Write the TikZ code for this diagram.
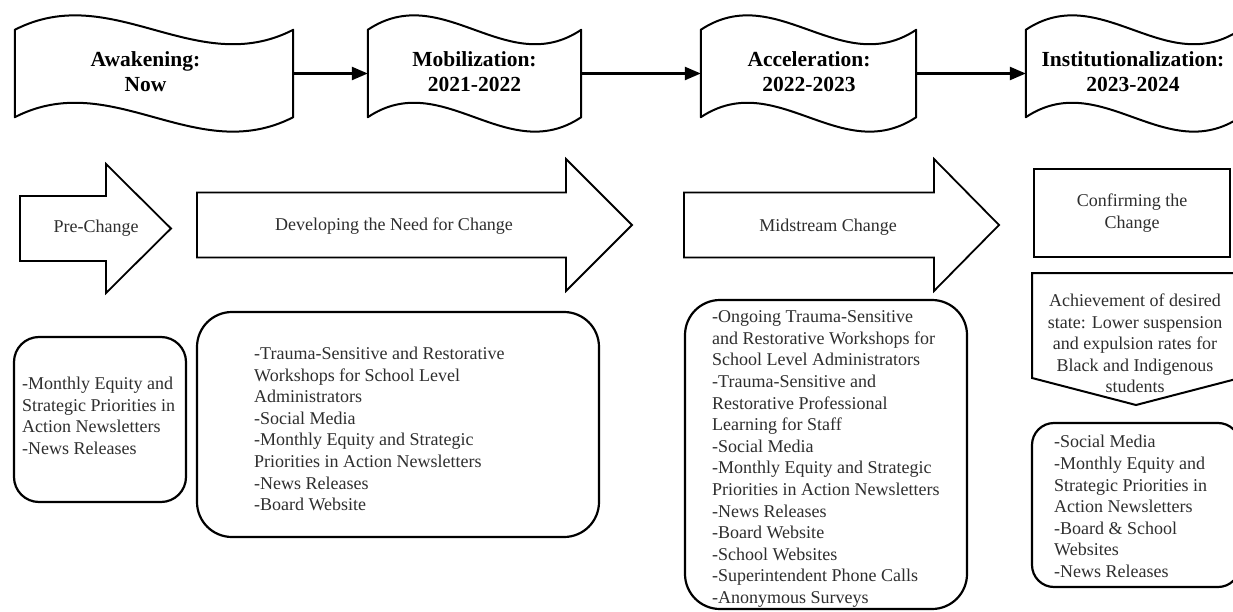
\documentclass[tikz,border=0pt]{standalone}
\usepackage{fontspec}
\setmainfont{Liberation Serif}
\usetikzlibrary{arrows.meta,calc}

\tikzset{
  banner/.style={minimum width=#1, minimum height=87pt, inner sep=0pt},
  title/.style={font=\fontsize{21.5}{25}\selectfont\bfseries, align=center, inner sep=0pt},
  flow/.style={line width=2.4pt, -{Triangle[length=16pt,width=13pt]}},
  blockarrow/.style={draw, line width=1.8pt, line join=miter},
  body/.style={font=\fontsize{18}{21.6}\selectfont, text=black!82, inner sep=0pt},
  listbox/.style={draw, line width=2.2pt, rounded corners=#1, inner sep=0pt},
  listtext/.style={body, align=left, anchor=west},
}

% wavy "tape" outline around a banner node
\newcommand{\waveoutline}[1]{%
  \draw[line width=2pt, line join=round]
    (#1.north west)
      .. controls ($(#1.north west)!0.35!(#1.north east)+(0,-50)$)
              and ($(#1.north west)!0.65!(#1.north east)+(0,50)$) .. (#1.north east)
    -- (#1.south east)
      .. controls ($(#1.south west)!0.65!(#1.south east)+(0,50)$)
              and ($(#1.south west)!0.35!(#1.south east)+(0,-50)$) .. (#1.south west)
    -- cycle;}

\begin{document}
\begin{tikzpicture}[x=1pt, y=-1pt]
\useasboundingbox (0,0) rectangle (1233,612);
\clip (0,0) rectangle (1233,612);
\fill[white] (0,0) rectangle (1233,612);

% ---- timeline banners ----
\node[banner=278pt] (b1) at (154,73.5) {};
\node[banner=213pt] (b2) at (474.5,73.5) {};
\node[banner=215pt] (b3) at (808.5,73.5) {};
\node[banner=214pt] (b4) at (1133,73.5) {};
\waveoutline{b1}
\waveoutline{b2}
\waveoutline{b3}
\waveoutline{b4}
\node[title] (t1) at (145.5,72) {Awakening:\\Now};
\node[title] (t2) at (474.5,72) {Mobilization:\\2021-2022};
\node[title] (t3) at (809,72) {Acceleration:\\2022-2023};
\node[title] (t4) at (1133,72) {Institutionalization:\\2023-2024};

\draw[flow] (b1.east) -- (b2.west);
\draw[flow] (b2.east) -- (b3.west);
\draw[flow] (b3.east) -- (b4.west);

% ---- phase arrows ----
\draw[blockarrow] (20,196) -- (106,196) -- (106,164) -- (171,228.5)
  -- (106,293) -- (106,261) -- (20,261) -- cycle;
\node[body] (pre) at (96,228) {Pre-Change};

\draw[blockarrow] (197,192.5) -- (566,192.5) -- (566,159) -- (632,225)
  -- (566,291) -- (566,257.5) -- (197,257.5) -- cycle;
\node[body] (dev) at (394,226) {Developing the Need for Change};

\draw[blockarrow] (684,192.5) -- (934,192.5) -- (934,159) -- (999,225)
  -- (934,291) -- (934,257.5) -- (684,257.5) -- cycle;
\node[body] (mid) at (828,227) {Midstream Change};

\node[draw, line width=2.2pt, minimum width=196pt, minimum height=88pt,
      inner sep=0pt, body, align=center] (conf) at (1132,213)
  {Confirming the\\Change};

% desired-state pentagon
\draw[line width=2pt, line join=miter] (1032,273) -- (1240,273) -- (1240,378)
  -- (1136,405) -- (1032,378) -- cycle;
\node[body, align=center] (goal) at (1135,343.5)
  {Achievement of desired\\state: Lower suspension\\and expulsion rates for\\Black and Indigenous\\students};

% ---- communication lists ----
\node[listbox=25pt, minimum width=172pt, minimum height=165pt] (lb) at (100,419.5) {};
\node[listtext] (lt) at (22,416)
  {-Monthly Equity and\\Strategic Priorities in\\Action Newsletters\\-News Releases};

\node[listbox=35pt, minimum width=402pt, minimum height=225pt] (db) at (398,424.5) {};
\node[listtext] (dt) at (254,429)
  {-Trauma-Sensitive and Restorative\\Workshops for School Level\\Administrators\\-Social Media\\-Monthly Equity and Strategic\\Priorities in Action Newsletters\\-News Releases\\-Board Website};

\node[listbox=35pt, minimum width=282pt, minimum height=309pt] (ab) at (826,454.5) {};
\node[listtext] (at) at (712,459)
  {-Ongoing Trauma-Sensitive\\and Restorative Workshops for\\School Level Administrators\\-Trauma-Sensitive and\\Restorative Professional\\Learning for Staff\\-Social Media\\-Monthly Equity and Strategic\\Priorities in Action Newsletters\\-News Releases\\-Board Website\\-School Websites\\-Superintendent Phone Calls\\-Anonymous Surveys};

\node[listbox=22pt, minimum width=208pt, minimum height=164pt] (rb) at (1136,505) {};
\node[listtext] (rt) at (1054,506.5)
  {-Social Media\\-Monthly Equity and\\Strategic Priorities in\\Action Newsletters\\-Board \& School\\Websites\\-News Releases};
\end{tikzpicture}
\end{document}
